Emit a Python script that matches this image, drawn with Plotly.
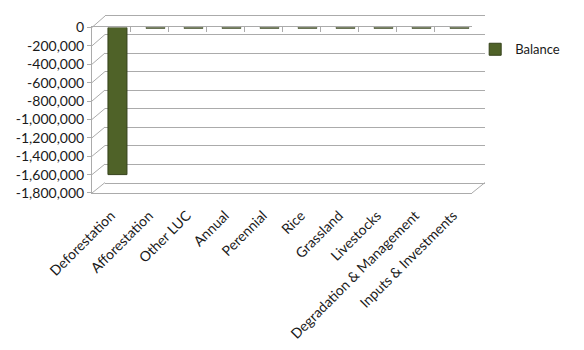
import plotly.graph_objects as go

categories = ["Deforestation", "Afforestation", "Other LUC", "Annual", "Perennial",
              "Rice", "Grassland", "Livestocks", "Degradation & Management",
              "Inputs & Investments"]
balance = [-1600000, -8000, -8000, -8000, -8000, -8000, -8000, -8000, -8000, -8000]
y_tickvals = [0, -200000, -400000, -600000, -800000, -1000000, -1200000,
              -1400000, -1600000, -1800000]
y_ticktext = ["0", "-200,000", "-400,000", "-600,000", "-800,000", "-1,000,000",
              "-1,200,000", "-1,400,000", "-1,600,000", "-1,800,000"]
y_min, y_max = -1800000, 0

W, H = 584, 350
L, R, T, B = 92, 485, 7, 193   # plot area in pixels
PW, PH = R - L, B - T

def fx(px):
    return (px - L) / PW

def fy(py):
    return (B - py) / PH

front_x = [fx(92), fx(472)]
front_y = [fy(193), fy(19)]
back_x = [fx(105), fx(485)]
back_y = [fy(182), fy(7)]

grid_col = "#ababab"
font_fam = "Lato, 'Open Sans', sans-serif"
n = len(categories)

fig = go.Figure()
# back wall subplot (drawn first)
fig.add_trace(go.Scatter(x=list(range(n)), y=balance, xaxis="x", yaxis="y",
                         mode="markers", marker=dict(opacity=0), hoverinfo="skip",
                         showlegend=False))
# front subplot with bars
fig.add_trace(go.Bar(
    x=categories, y=balance, name="Balance", xaxis="x2", yaxis="y2",
    marker=dict(color="#4F6228", line=dict(color="#34411a", width=1)),
    width=0.5, offset=-0.08,
))
fig.add_trace(go.Scatter(x=list(range(n)), y=balance, xaxis="x3", yaxis="y2",
                         mode="markers", marker=dict(opacity=0), hoverinfo="skip",
                         showlegend=False))

# side-wall and floor perspective lines
shapes = []
def yf_of(v, dom):
    return dom[0] + (v - y_min) / (y_max - y_min) * (dom[1] - dom[0])
for v in y_tickvals:
    shapes.append(dict(type="line", xref="paper", yref="paper", layer="below",
                       x0=front_x[0], y0=yf_of(v, front_y),
                       x1=back_x[0], y1=yf_of(v, back_y),
                       line=dict(color=grid_col, width=1)))
shapes.append(dict(type="line", xref="paper", yref="paper", layer="below",
                   x0=front_x[1], y0=front_y[0], x1=back_x[1], y1=back_y[0],
                   line=dict(color=grid_col, width=1)))

fig.update_layout(
    width=W, height=H,
    margin=dict(l=L, r=W - R, t=T, b=H - B),
    paper_bgcolor="white", plot_bgcolor="rgba(0,0,0,0)",
    font=dict(family=font_fam, size=14, color="#1a1a1a"),
    showlegend=True,
    legend=dict(x=0.975, y=fy(42), xanchor="left", yanchor="middle",
                font=dict(size=13), bgcolor="rgba(0,0,0,0)"),
    xaxis=dict(domain=back_x, anchor="y", range=[-0.5, n - 0.5],
               showline=True, mirror=True, linecolor=grid_col, showticklabels=False,
               ticks="", showgrid=False, zeroline=False),
    yaxis=dict(domain=back_y, anchor="x", range=[y_min, y_max],
               tickvals=y_tickvals, showticklabels=False, ticks="",
               showgrid=True, gridcolor=grid_col, gridwidth=1,
               showline=False, zeroline=False),
    xaxis2=dict(domain=front_x, anchor="y2", type="category", tickangle=-45,
                showline=True, linecolor=grid_col, ticks="", showgrid=False,
                ticklabelstandoff=8, range=[-0.5, n - 0.5]),
    yaxis2=dict(domain=front_y, anchor="x2", range=[y_min, y_max],
                tickvals=y_tickvals, ticktext=y_ticktext,
                showline=True, linecolor=grid_col, ticks="outside", ticklen=4,
                tickcolor=grid_col, showgrid=False, zeroline=False),
    xaxis3=dict(overlaying="x2", anchor="y2", side="top",
                range=[-0.5, n - 0.5],
                tickvals=[i - 0.5 for i in range(n + 1)],
                showticklabels=False, ticks="inside", ticklen=5, tickcolor=grid_col,
                showline=True, linecolor=grid_col, showgrid=False, zeroline=False),
    shapes=shapes,
)

fig.write_html("out.html")
